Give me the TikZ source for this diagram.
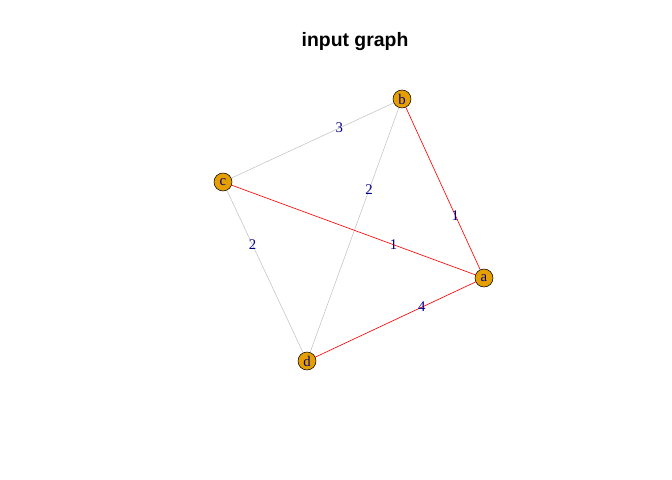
\documentclass[tikz,border=0pt]{standalone}
\usepackage{fontspec}
\setmainfont{Liberation Serif}
\newfontfamily\titlefont{Liberation Sans}
\usepackage{xcolor}
\usetikzlibrary{positioning}
\definecolor{vfill}{HTML}{E69F00}
\definecolor{lblue}{HTML}{00008B}
\definecolor{egray}{HTML}{BEBEBE}

\begin{document}
\begin{tikzpicture}[
  x=0.025cm, y=-0.025cm,
  vertex/.style={circle, draw=black, line width=0.4pt, fill=vfill, inner sep=0pt, minimum size=0.45cm, font=\fontsize{10.5}{11}\selectfont, text=lblue},
  plain/.style={egray, line width=0.35pt},
  marked/.style={red, line width=0.45pt},
  wt/.style={pos=0.665, inner sep=0pt, font=\fontsize{10.5}{11}\selectfont, text=lblue},
]
  \useasboundingbox (0,0) rectangle (672,480);

  % Title
  \node[font=\titlefont\bfseries\fontsize{13.8}{15}\selectfont] (title) at (355,42) {input graph};

  % Vertices
  \node[vertex] (b) at (402,99) {b};
  \node[vertex] (c) at (223,182) {c};
  \node[vertex] (a) at (484,278) {a};
  \node[vertex] (d) at (307,361) {d};

  % Edges (gray = not chosen)
  \draw[plain] (c) -- node[wt] {3} (b);
  \draw[plain] (d) -- node[wt] {2} (b);
  \draw[plain] (d) -- node[wt] {2} (c);

  % Edges (red = chosen)
  \draw[marked] (c) -- node[wt] {1} (a);
  \draw[marked] (b) -- node[wt] {1} (a);
  \draw[marked] (d) -- node[wt] {4} (a);
\end{tikzpicture}
\end{document}
